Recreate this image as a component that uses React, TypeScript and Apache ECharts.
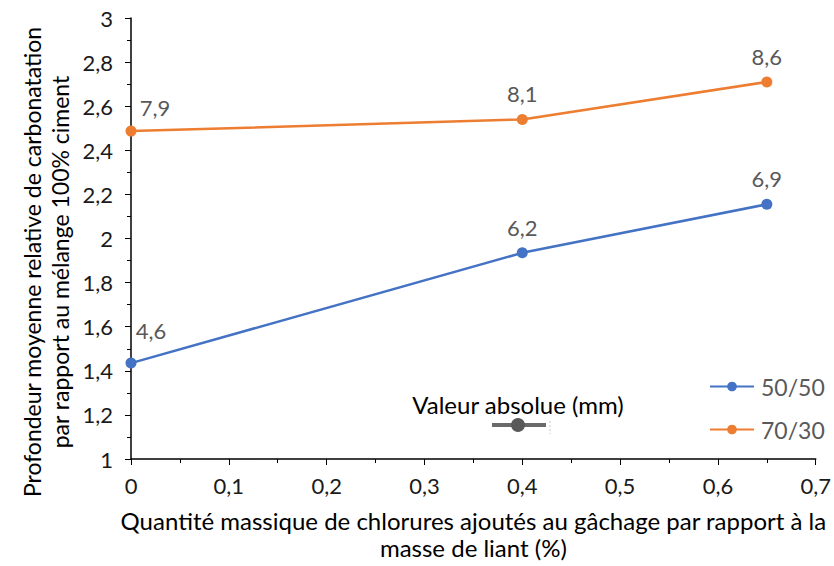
import React, { useEffect, useRef } from "react";
import * as echarts from "echarts";

const xValues = [0, 0.4, 0.65];
const series5050 = [1.435, 1.935, 2.155];
const series7030 = [2.487, 2.54, 2.71];
const labels5050 = ["4,6", "6,2", "6,9"];
const labels7030 = ["7,9", "8,1", "8,6"];
const seriesNames = ["50/50", "70/30"];
const colors = ["#4472C4", "#ED7D31"];
const yTitle = ["Profondeur moyenne relative de carbonatation", "par rapport au mélange 100% ciment"];
const xTitle = "Quantité massique de chlorures ajoutés au gâchage par rapport à la\nmasse de liant (%)";
const annotation = "Valeur absolue (mm)";

const FONT = "Lato, 'Open Sans', sans-serif";
const fmt = (v: number) => String(Math.round(v * 10) / 10).replace(".", ",");

function buildData(ys: number[], labs: string[], firstOffset: number[]) {
  return ys.map((y, i) => ({
    value: [xValues[i], y],
    label: {
      formatter: labs[i],
      ...(i === 0 ? { offset: firstOffset } : {}),
    },
  }));
}

export default function App() {
  const ref = useRef<HTMLDivElement>(null);
  useEffect(() => {
    const chart = echarts.init(ref.current!, null, { renderer: "svg" });
    const labelStyle = {
      show: true,
      position: "top",
      distance: 9,
      color: "#595959",
      fontSize: 22,
      fontFamily: FONT,
    };
    chart.setOption({
      animation: false,
      textStyle: { fontFamily: FONT },
      grid: { left: 131, right: 14, top: 18, bottom: 105 },
      legend: {
        orient: "vertical",
        left: 704,
        top: 370,
        itemGap: 20,
        itemWidth: 44,
        itemHeight: 12,
        textStyle: { color: "#595959", fontSize: 23, fontFamily: FONT, padding: [0, 0, 0, 2] },
        data: seriesNames,
      },
      xAxis: {
        type: "value",
        min: 0,
        max: 0.7,
        interval: 0.1,
        name: xTitle,
        nameLocation: "middle",
        nameGap: 48,
        nameTextStyle: { color: "#000", fontSize: 24, lineHeight: 27, fontFamily: FONT },
        axisLine: { lineStyle: { color: "#000", width: 1.5 } },
        axisTick: { show: true, length: 6, lineStyle: { color: "#000" } },
        minorTick: { show: true, splitNumber: 2, length: 4, lineStyle: { color: "#000" } },
        splitLine: { show: false },
        axisLabel: { color: "#1a1a1a", fontSize: 22, margin: 15, formatter: fmt, fontFamily: FONT },
      },
      yAxis: {
        type: "value",
        min: 1,
        max: 3,
        interval: 0.2,
        axisLine: { show: true, lineStyle: { color: "#000", width: 1.5 } },
        axisTick: { show: true, length: 6, lineStyle: { color: "#000" } },
        minorTick: { show: true, splitNumber: 2, length: 4, lineStyle: { color: "#000" } },
        splitLine: { show: false },
        axisLabel: { color: "#1a1a1a", fontSize: 22, margin: 18, formatter: fmt, fontFamily: FONT },
      },
      graphic: [
        {
          type: "text",
          x: 46,
          y: 262,
          rotation: Math.PI / 2,
          style: {
            text: yTitle.join("\n"),
            fill: "#000",
            fontSize: 23,
            lineHeight: 28,
            fontFamily: FONT,
            align: "center",
            verticalAlign: "middle",
          },
        },
        {
          type: "text",
          x: 518,
          y: 404,
          style: {
            text: annotation,
            fill: "#000",
            fontSize: 24,
            fontFamily: FONT,
            align: "center",
            verticalAlign: "middle",
          },
        },
        {
          type: "line",
          shape: { x1: 492, y1: 425, x2: 546, y2: 425 },
          style: { stroke: "#6a6a6a", lineWidth: 4 },
        },
        {
          type: "circle",
          shape: { cx: 518, cy: 425, r: 7 },
          style: { fill: "#595959" },
        },
        {
          type: "line",
          shape: { x1: 550, y1: 421, x2: 550, y2: 434 },
          style: { stroke: "#c8c8c8", lineWidth: 1, lineDash: [2, 2] },
        },
      ],
      series: [
        {
          name: seriesNames[0],
          type: "line",
          data: buildData(series5050, labels5050, [20, -7]),
          symbol: "circle",
          symbolSize: 11,
          lineStyle: { color: colors[0], width: 2.5 },
          itemStyle: { color: colors[0] },
          label: labelStyle,
        },
        {
          name: seriesNames[1],
          type: "line",
          data: buildData(series7030, labels7030, [24, 2]),
          symbol: "circle",
          symbolSize: 11,
          lineStyle: { color: colors[1], width: 2.5 },
          itemStyle: { color: colors[1] },
          label: labelStyle,
        },
      ],
    });
    return () => chart.dispose();
  }, []);
  return <div ref={ref} style={{ width: 834, height: 566, position: "absolute", left: 0, top: 0 }} />;
}
